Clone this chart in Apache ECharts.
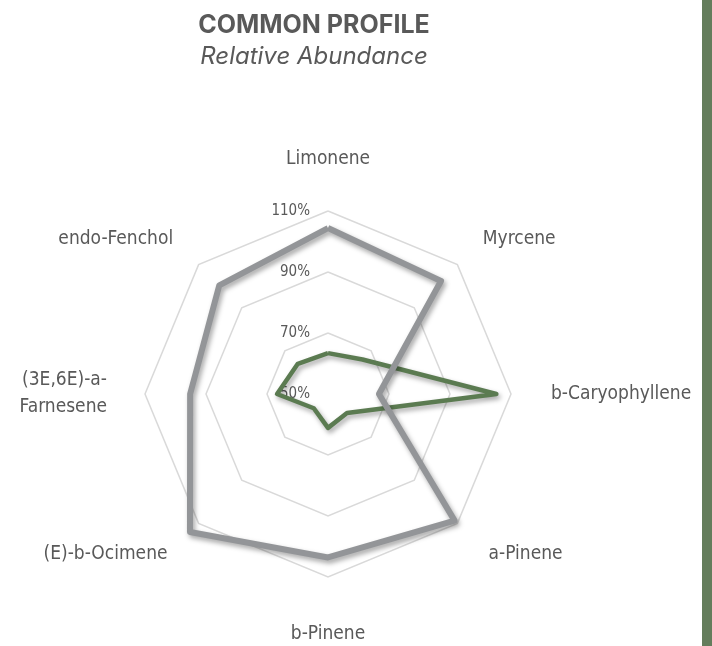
<!DOCTYPE html>
<html>
<head>
<meta charset="utf-8">
<script src="https://cdn.jsdelivr.net/npm/echarts@6/dist/echarts.min.js"></script>
<style>
  html, body { margin: 0; padding: 0; background: #ffffff; }
  #chart { width: 712px; height: 646px; }
</style>
</head>
<body>
<div id="chart"></div>
<script>
// Terpenes, listed clockwise from the top of the web
const compounds = ['Limonene', 'Myrcene', 'b-Caryophyllene', 'a-Pinene', 'b-Pinene',
                   '(E)-b-Ocimene', '(3E,6E)-a-\nFarnesene', 'endo-Fenchol'];
// Common profile (grey) and sample (green), relative abundance in %
const commonProfile = [104.4, 102.4, 66.7, 108.7, 103.6, 114, 95.2, 100.4];
const sampleProfile = [63.4, 66, 105.2, 58.8, 61.1, 56.6, 66.7, 64];
// Ring scale
const scaleMin = 50;
const scaleMax = 110;
const scaleSplits = 3;

// Distance of each compound name from the outer ring (same clockwise order)
const nameGaps = [38, 36, 40, 44, 44, 44, 38, 36];

// ECharts lays indicators out counter-clockwise, so walk the lists backwards after the first
const order = [0].concat(compounds.slice(1).map((_, i) => compounds.length - 1 - i));
const pick = arr => order.map(i => arr[i]);

const textColor = '#595959';
const labelFont = '"Liberation Sans Narrow", "DejaVu Sans Condensed", "Liberation Sans", sans-serif';
const titleFont = 'Inter, "Open Sans", sans-serif';

const indicators = order.map((i, k) => {
  const ind = { name: compounds[i], min: scaleMin, max: scaleMax, nameGap: nameGaps[i] };
  if (k === 0) {
    ind.axisLabel = {
      show: true,
      formatter: '{value}%',
      color: textColor,
      fontSize: 15,
      margin: 18,
      fontFamily: labelFont
    };
  }
  return ind;
});

const chart = echarts.init(document.getElementById('chart'), null, { renderer: 'canvas' });
chart.setOption({
  backgroundColor: '#ffffff',
  animation: false,
  title: {
    text: 'COMMON PROFILE',
    subtext: 'Relative Abundance',
    left: 309,
    top: 8,
    textAlign: 'center',
    itemGap: 7,
    textStyle: { color: textColor, fontSize: 25, fontWeight: 'bold', fontFamily: titleFont },
    subtextStyle: { color: textColor, fontSize: 24, fontStyle: 'italic', fontFamily: titleFont }
  },
  graphic: [{
    type: 'rect',
    right: 0,
    top: 0,
    shape: { width: 10, height: 646 },
    style: { fill: '#647d5c' }
  }],
  radar: {
    center: [328, 394],
    radius: 183,
    startAngle: 90,
    splitNumber: scaleSplits,
    shape: 'polygon',
    indicator: indicators,
    axisName: {
      color: textColor,
      fontSize: 19,
      fontFamily: labelFont,
      lineHeight: 27
    },
    axisLine: { show: false },
    axisTick: { show: false },
    splitArea: { show: false },
    splitLine: { lineStyle: { color: '#d9d9d9', width: 1.5 } }
  },
  series: [{
    type: 'radar',
    symbol: 'none',
    data: [
      {
        value: pick(sampleProfile),
        lineStyle: { color: '#5b7b51', width: 4.5, shadowColor: 'rgba(0,0,0,0.35)', shadowBlur: 5, shadowOffsetX: 2, shadowOffsetY: 3 }
      },
      {
        value: pick(commonProfile),
        lineStyle: { color: '#939598', width: 6, shadowColor: 'rgba(0,0,0,0.35)', shadowBlur: 5, shadowOffsetX: 2, shadowOffsetY: 3 }
      }
    ]
  }]
});
</script>
</body>
</html>
